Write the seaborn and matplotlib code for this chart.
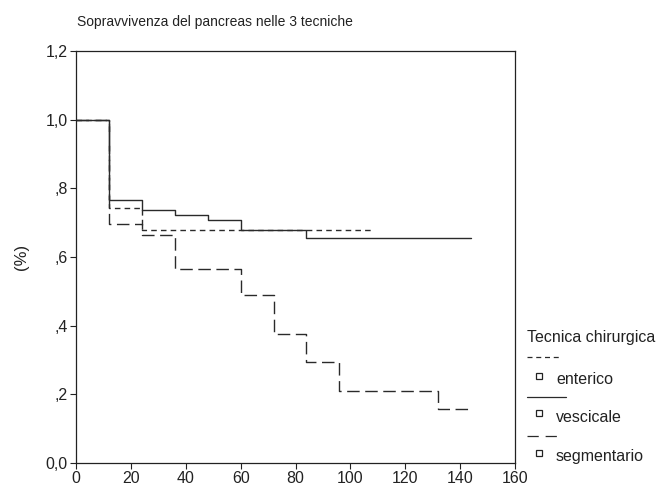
import matplotlib
matplotlib.use("Agg")
import matplotlib.pyplot as plt
import seaborn as sns
import pandas as pd
from matplotlib.lines import Line2D

# Data (months, survival proportion)
enterico_t = [0, 12, 24, 108]
enterico_s = [1.0, 0.742, 0.678, 0.678]
vescicale_t = [0, 12, 24, 36, 48, 60, 84, 144]
vescicale_s = [1.0, 0.766, 0.736, 0.721, 0.707, 0.678, 0.656, 0.656]
segmentario_t = [0, 12, 24, 36, 60, 72, 84, 96, 132, 144]
segmentario_s = [1.0, 0.697, 0.664, 0.566, 0.49, 0.375, 0.293, 0.209, 0.158, 0.158]
groups = ["enterico", "vescicale", "segmentario"]
xticks = [0, 20, 40, 60, 80, 100, 120, 140, 160]
yticks = [0.0, 0.2, 0.4, 0.6, 0.8, 1.0, 1.2]
ytick_labels = ["0,0", ",2", ",4", ",6", ",8", "1,0", "1,2"]

rows = []
for g, ts, ss in zip(groups, [enterico_t, vescicale_t, segmentario_t],
                     [enterico_s, vescicale_s, segmentario_s]):
    for t, s in zip(ts, ss):
        rows.append({"t": t, "s": s, "tecnica": g})
df = pd.DataFrame(rows)

sns.set_style("white")
plt.rcParams["font.family"] = ["Liberation Sans", "DejaVu Sans"]

W, H = 659, 490
fig = plt.figure(figsize=(W/100, H/100), dpi=100)
ax = fig.add_axes([76/W, 1-463/H, (515-76)/W, (463-51)/H])

dash_map = {"enterico": (4, 3), "vescicale": "", "segmentario": (9, 4)}
sns.lineplot(data=df, x="t", y="s", hue="tecnica", style="tecnica",
             palette={g: "#2a2a2a" for g in groups}, dashes=dash_map,
             drawstyle="steps-post", estimator=None, sort=False,
             linewidth=1.0, legend=False, ax=ax)

ax.set_xlim(0, 160)
ax.set_ylim(0, 1.2)
ax.set_xticks(xticks)
ax.set_xticklabels([str(x) for x in xticks], fontsize=11.5)
ax.set_yticks(yticks)
ax.set_yticklabels(ytick_labels, fontsize=11.5)
ax.tick_params(axis="both", direction="out", length=4, width=0.8, color="#222222",
               labelcolor="#222222", left=True, bottom=True, pad=2)
for sp in ax.spines.values():
    sp.set_visible(True)
    sp.set_color("#222222")
    sp.set_linewidth(0.9)
ax.set_xlabel("")
ax.set_ylabel("(%)", fontsize=12, labelpad=12, color="#222222")
ax.grid(False)

fig.text(77/W, 1-22/H, "Sopravvivenza del pancreas nelle 3 tecniche",
         fontsize=10, ha="left", va="center", color="#222222")

# Legend drawn manually outside the axes
fig.text(527/W, 1-337/H, "Tecnica chirurgica", fontsize=11.5, ha="left",
         va="center", color="#222222")
leg_styles = [(0, (4, 3)), "-", (0, (9, 5.5))]
line_y = [357, 397, 436]
marker_y = [376, 413, 453]
label_y = [379, 417, 456]
line_x1 = [562, 566, 561]
for g, ls, ly, my, ty, x1 in zip(groups, leg_styles, line_y, marker_y, label_y, line_x1):
    fig.add_artist(Line2D([527/W, x1/W], [1-ly/H, 1-ly/H],
                          transform=fig.transFigure, color="#2a2a2a",
                          linewidth=0.9, linestyle=ls))
    fig.add_artist(Line2D([539/W], [1-my/H], transform=fig.transFigure,
                          marker="s", markersize=4, markerfacecolor="white",
                          markeredgecolor="#222222", markeredgewidth=0.9,
                          linestyle="none"))
    fig.text(556/W, 1-ty/H, g, fontsize=11.5, ha="left", va="center",
             color="#222222")

fig.savefig("out.png", dpi=100)
